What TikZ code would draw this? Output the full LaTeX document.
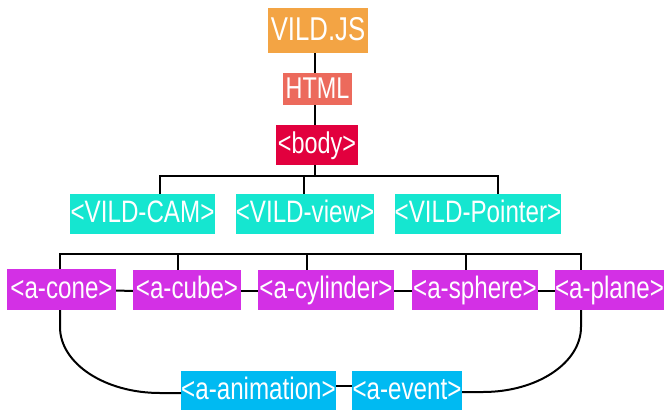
\documentclass[tikz,border=0pt]{standalone}
\usepackage{fontspec}
\newfontfamily\cond[FakeStretch=0.78]{Liberation Sans}
\definecolor{cOrange}{HTML}{F3A444}
\definecolor{cSalmon}{HTML}{EC6A5C}
\definecolor{cCrimson}{HTML}{E2003E}
\definecolor{cTeal}{HTML}{15E6D0}
\definecolor{cPurple}{HTML}{D330E5}
\definecolor{cSky}{HTML}{00BAF2}
\begin{document}
\begin{tikzpicture}[x=1pt,y=-1pt,
  box/.style={rectangle,inner sep=0pt,text=white,anchor=center,
    text height=22pt,text depth=5pt,
    font=\cond\fontsize{31}{31}\selectfont},
  link/.style={draw=black,line width=2pt}]
\useasboundingbox (0,0) rectangle (664,410);
% top chain
\node[box,fill=cOrange,minimum width=100pt,minimum height=45pt,text height=24pt,font=\cond\fontsize{33}{33}\selectfont] (vild) at (318,30.5) {VILD.JS};
\node[box,fill=cSalmon,minimum width=69pt,minimum height=32pt,text height=21.5pt,text depth=3pt,font=\cond\fontsize{30}{30}\selectfont] (html) at (317.5,89) {HTML};
\node[box,fill=cCrimson,minimum width=82pt,minimum height=40pt,font=\cond\fontsize{30}{30}\selectfont] (body) at (317,145) {<body>};
% VILD row
\node[box,fill=cTeal,minimum width=145pt,minimum height=40pt] (cam) at (142.5,214) {<VILD-CAM>};
\node[box,fill=cTeal,minimum width=138pt,minimum height=40pt] (view) at (305,214) {<VILD-view>};
\node[box,fill=cTeal,minimum width=166pt,minimum height=40pt] (pointer) at (478,214) {<VILD-Pointer>};
% shapes row
\node[box,fill=cPurple,minimum width=109pt,minimum height=41pt] (cone) at (61.5,289.5) {<a-cone>};
\node[box,fill=cPurple,minimum width=108pt,minimum height=40pt] (cube) at (187,290) {<a-cube>};
\node[box,fill=cPurple,minimum width=136pt,minimum height=40pt] (cyl) at (326,290) {<a-cylinder>};
\node[box,fill=cPurple,minimum width=126pt,minimum height=40pt] (sphere) at (475,290) {<a-sphere>};
\node[box,fill=cPurple,minimum width=109pt,minimum height=40pt] (plane) at (609.5,290) {<a-plane>};
% bottom row
\node[box,fill=cSky,minimum width=151pt,minimum height=39pt] (anim) at (258.5,390.5) {<a-animation>};
\node[box,fill=cSky,minimum width=110pt,minimum height=39pt] (event) at (407,390.5) {<a-event>};
% helper coordinates
\coordinate (spine) at (315,0);
\coordinate (barA) at (0,176);
\coordinate (barB) at (0,254);
\coordinate (xcam) at (160,0);
\coordinate (xview) at (304,0);
\coordinate (xptr) at (498,0);
\coordinate (xcone) at (60,0);
\coordinate (xcube) at (178,0);
\coordinate (xcyl) at (307,0);
\coordinate (xsph) at (466,0);
\coordinate (xpln) at (581,0);
% connectors
\draw[link] (vild.south -| spine) -- (html.north -| spine);
\draw[link] (html.south -| spine) -- (body.north -| spine);
\draw[link] (body.south -| spine) -- (spine |- barA);
\draw[link] (cam.north -| xcam) -- (xcam |- barA) -- (xptr |- barA) -- (pointer.north -| xptr);
\draw[link] (view.north -| xview) -- (xview |- barA);
\draw[link] (cone.north -| xcone) -- (xcone |- barB) -- (xpln |- barB) -- (plane.north -| xpln);
\draw[link] (cube.north -| xcube) -- (xcube |- barB);
\draw[link] (cyl.north -| xcyl) -- (xcyl |- barB);
\draw[link] (sphere.north -| xsph) -- (xsph |- barB);
\draw[link] ([yshift=-1pt]cone.east) -- ([yshift=-1pt]cube.west);
\draw[link] ([yshift=-1pt]cube.east) -- ([yshift=-1pt]cyl.west);
\draw[link] ([yshift=-1pt]cyl.east) -- ([yshift=-1pt]sphere.west);
\draw[link] ([yshift=-1pt]sphere.east) -- ([yshift=-1pt]plane.west);
\draw[link] ([yshift=5pt]anim.east) -- ([yshift=5pt]event.west);
\draw[link] (cone.south -| xcone) -- (60,327) .. controls (60,363.5) and (104.8,393) .. (160,393) -- ([yshift=-2.5pt]anim.west);
\draw[link] (plane.south -| xpln) -- (581,327) .. controls (581,363) and (537,392) .. (483,392) -- ([yshift=-1.5pt]event.east);
\end{tikzpicture}
\end{document}
